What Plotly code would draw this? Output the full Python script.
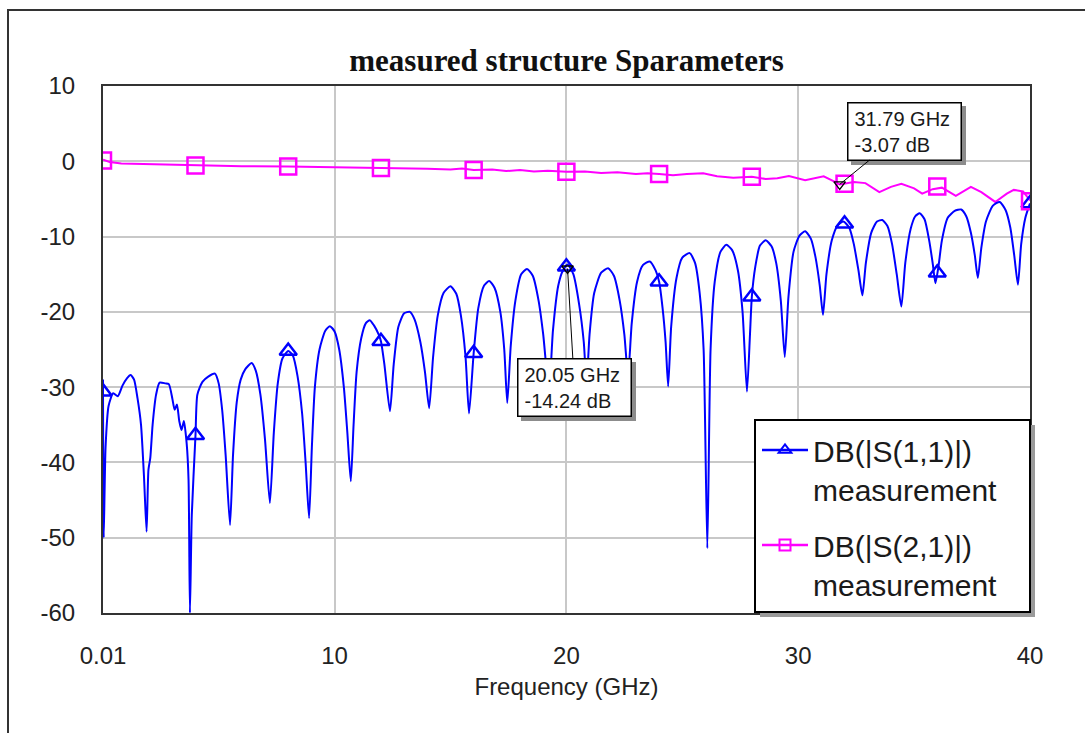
import plotly.graph_objects as go

# ---------------- data ----------------
s11_freq = [0.01, 0.04, 0.12, 0.25, 0.45, 0.65, 0.85, 1.05, 1.2, 1.35, 1.5, 1.65, 1.78, 1.89, 1.97,
            2.05, 2.15, 2.3, 2.45, 2.7, 2.85, 3.0, 3.1, 3.2, 3.3, 3.4, 3.5, 3.62, 3.7, 3.76, 3.84,
            4.0, 4.08, 4.3, 4.55, 4.84, 5.0, 5.15, 5.3, 5.49, 5.62, 5.78, 5.95, 6.15, 6.42, 6.6,
            6.8, 7.0, 7.21, 7.38, 7.55, 7.75, 8.0, 8.2, 8.4, 8.6, 8.75, 8.9, 9.02, 9.15, 9.35,
            9.6, 9.8, 10.0, 10.2, 10.4, 10.55, 10.7, 10.82, 10.95, 11.15, 11.35, 11.52, 11.7,
            11.9, 12.0, 12.15, 12.39, 12.55, 12.75, 13.0, 13.25, 13.45, 13.7, 13.9, 14.08, 14.25,
            14.45, 14.7, 15.0, 15.25, 15.45, 15.65, 15.8, 16.0, 16.2, 16.45, 16.67, 16.9, 17.15,
            17.32, 17.45, 17.6, 17.8, 18.05, 18.3, 18.55, 18.8, 19.0, 19.25, 19.42, 19.65, 19.85,
            20.05, 20.3, 20.55, 20.75, 20.87, 21.0, 21.2, 21.5, 21.8, 22.05, 22.3, 22.5, 22.66,
            22.82, 23.05, 23.3, 23.6, 23.85, 24.0, 24.15, 24.28, 24.39, 24.52, 24.75, 25.0, 25.32,
            25.55, 25.75, 25.92, 26.08, 26.22, 26.4, 26.65, 26.9, 27.15, 27.4, 27.6, 27.79, 27.92,
            28.0, 28.15, 28.35, 28.6, 28.85, 29.05, 29.25, 29.42, 29.58, 29.8, 30.05, 30.3, 30.55,
            30.75, 30.93, 31.07, 31.22, 31.45, 31.7, 31.95, 32.2, 32.4, 32.6, 32.77, 32.92, 33.15,
            33.4, 33.63, 33.85, 34.05, 34.25, 34.45, 34.62, 34.85, 35.05, 35.24, 35.45, 35.65,
            35.8, 35.92, 36.05, 36.2, 36.45, 36.75, 37.03, 37.25, 37.45, 37.62, 37.75, 37.9, 38.1,
            38.4, 38.69, 38.95, 39.15, 39.32, 39.48, 39.62, 39.8, 40.0]
s11_db = [-29.0, -50.0, -38.0, -32.5, -30.8, -31.2, -29.8, -28.8, -28.4, -29.0, -31.5, -35.0, -42.0,
          -49.2, -41.0, -39.4, -35.0, -31.0, -29.4, -29.5, -29.6, -31.5, -33.0, -32.3, -34.5,
          -35.7, -34.5, -37.5, -42.3, -60.0, -47.0, -36.4, -31.0, -29.3, -28.6, -28.2, -29.5,
          -33.0, -39.0, -48.3, -39.0, -32.0, -29.0, -27.6, -26.8, -27.8, -31.0, -37.0, -45.4,
          -36.0, -29.5, -26.2, -25.2, -25.8, -28.5, -33.5, -40.0, -47.4, -38.0, -30.0, -25.0,
          -22.5, -21.9, -22.6, -25.0, -30.0, -36.0, -42.5, -35.0, -28.0, -23.5, -21.5, -21.1,
          -21.8, -23.0, -23.9, -27.0, -33.2, -27.0, -22.0, -20.2, -20.0, -21.0, -24.0, -28.0,
          -32.8, -26.0, -20.5, -17.5, -16.6, -17.6, -20.5, -26.0, -33.5, -25.5, -19.5, -16.5,
          -15.9, -16.8, -20.0, -25.0, -32.1, -24.5, -18.5, -15.0, -14.3, -15.2, -18.5, -23.0,
          -30.5, -22.5, -16.5, -14.5, -13.7, -15.0, -19.0, -24.0, -29.5, -23.0, -17.5, -14.8,
          -14.2, -15.2, -18.5, -23.0, -28.5, -21.5, -16.0, -13.8, -13.3, -14.5, -16.0, -19.5,
          -24.0, -29.9, -22.0, -15.5, -12.8, -12.2, -13.5, -17.5, -25.0, -51.4, -25.0, -16.0,
          -12.0, -11.1, -11.8, -14.5, -20.0, -30.6, -23.0, -18.0, -14.0, -11.2, -10.5, -11.3,
          -13.5, -18.5, -26.0, -18.0, -12.0, -9.9, -9.3, -10.3, -12.8, -16.5, -20.4, -15.0,
          -10.5, -8.5, -8.0, -8.8, -11.0, -14.5, -17.8, -13.5, -9.5, -8.0, -7.8, -8.6, -11.0,
          -15.0, -19.3, -13.5, -9.0, -7.3, -6.9, -7.7, -10.5, -13.5, -16.2, -14.0, -10.5, -7.5,
          -6.6, -6.4, -7.3, -9.5, -12.5, -15.5, -11.5, -8.0, -5.9, -5.4, -6.5, -8.8, -12.5,
          -16.4, -11.0, -7.5, -5.6]

s21_freq = [0.01, 0.3, 0.8, 1.5, 2.5, 4, 6, 8, 10, 12, 13, 14, 15, 15.5, 16, 16.8, 17.4, 18, 18.6,
            19.2, 20, 20.8, 21.5, 22.2, 23, 23.5, 24, 24.6, 25.2, 25.9, 26.5, 27.2, 28, 28.6, 29.1,
            29.6, 30.3, 30.7, 31.1, 31.5, 31.79, 32.4, 32.9, 33.5, 34.0, 34.45, 35.0, 35.35, 35.8,
            36.2, 36.8, 37.45, 37.9, 38.5, 39.0, 39.3, 39.7, 40.0]
s21_db = [0.2, -0.1, -0.3, -0.35, -0.4, -0.55, -0.65, -0.7, -0.8, -0.9, -0.9, -1.0, -1.1, -0.95,
          -1.15, -1.1, -1.3, -1.15, -1.35, -1.25, -1.4, -1.35, -1.55, -1.45, -1.7, -1.6, -1.7,
          -1.85, -1.7, -1.6, -2.0, -2.2, -2.05, -2.35, -2.25, -1.95, -2.5, -2.25, -2.0, -2.6,
          -3.07, -2.75, -2.9, -4.1, -3.4, -3.0, -3.6, -4.3, -3.7, -3.5, -4.6, -3.4, -4.1, -5.4,
          -4.3, -3.8, -4.0, -5.2]

marker_freq = [0.01, 4, 8, 12, 16, 20, 24, 28, 32, 36, 40]
s11_marker_db = [-30.6, -36.4, -25.2, -23.9, -25.5, -14.0, -16.0, -18.0, -8.3, -14.8, -5.6]
s21_marker_db = [0.1, -0.55, -0.7, -0.9, -1.15, -1.4, -1.7, -2.05, -3.0, -3.35, -5.3]

readout_freq = [20.05, 31.79]
readout_db = [-14.24, -3.07]
readout_text = ["20.05 GHz<br>-14.24 dB", "31.79 GHz<br>-3.07 dB"]

x_tickvals = [0.01, 10, 20, 30, 40]
x_ticktext = ["0.01", "10", "20", "30", "40"]
y_tickvals = [10, 0, -10, -20, -30, -40, -50, -60]
y_ticktext = ["10", "0", "-10", "-20", "-30", "-40", "-50", "-60"]

s11_name = "DB(|S(1,1)|)<br>measurement"
s21_name = "DB(|S(2,1)|)<br>measurement"

# ---------------- styling ----------------
BLUE = "#0000ff"
MAG = "#ff00ff"
SANS = "Liberation Sans, Arial, sans-serif"
L, T, W, H = 103, 86, 927, 527  # plot area in pixels


def px(xp):
    return (xp - L) / W


def py(yp):
    return (T + H - yp) / H


fig = go.Figure()

fig.add_trace(go.Scatter(x=s21_freq, y=s21_db, mode="lines",
                         line=dict(color=MAG, width=2), showlegend=False, hoverinfo="skip"))
fig.add_trace(go.Scatter(x=s11_freq, y=s11_db, mode="lines",
                         line=dict(color=BLUE, width=2, shape="spline", smoothing=0.6),
                         showlegend=False, hoverinfo="skip"))
fig.add_trace(go.Scatter(x=marker_freq, y=s11_marker_db, mode="markers",
                         marker=dict(symbol="triangle-up-open", size=15, color=BLUE,
                                     line=dict(width=2.5, color=BLUE)),
                         showlegend=False, hoverinfo="skip"))
fig.add_trace(go.Scatter(x=marker_freq, y=s21_marker_db, mode="markers",
                         marker=dict(symbol="square-open", size=16, color=MAG,
                                     line=dict(width=2.5, color=MAG)),
                         showlegend=False, hoverinfo="skip"))
fig.add_trace(go.Scatter(x=readout_freq, y=readout_db, mode="markers",
                         marker=dict(symbol="triangle-down-open", size=10, color="#000",
                                     line=dict(width=1.3, color="#000")),
                         showlegend=False, hoverinfo="skip"))

# legend entries
fig.add_trace(go.Scatter(x=[None], y=[None], mode="lines+markers", name=s11_name,
                         legendgroup="a",
                         line=dict(color=BLUE, width=2.5),
                         marker=dict(symbol="triangle-up-open", size=11, color=BLUE,
                                     line=dict(width=2, color=BLUE))))
fig.add_trace(go.Scatter(x=[None], y=[None], mode="lines+markers", name=s21_name,
                         legendgroup="b",
                         line=dict(color=MAG, width=2.5),
                         marker=dict(symbol="square-open", size=11, color=MAG,
                                     line=dict(width=2, color=MAG))))

# readout boxes (shadow first, then box)
ann = []
offsets = [(7, 119), (65, -53)]
for f, d, t, (ax, ay) in zip(readout_freq, readout_db, readout_text, offsets):
    common = dict(x=f, y=d, xref="x", yref="y", showarrow=True, ax=ax, ay=ay,
                  arrowhead=0, arrowwidth=1, standoff=0, align="left",
                  width=100, height=44, borderpad=6, borderwidth=1.5)
    sh = dict(common)
    sh.update(text=" ", bgcolor="#8c8c8c", bordercolor="#8c8c8c",
              arrowcolor="rgba(0,0,0,0)", xshift=4, yshift=-4,
              font=dict(family=SANS, size=20))
    ann.append(sh)
    bx = dict(common)
    bx.update(text=t, bgcolor="white", bordercolor="#000", arrowcolor="#000",
              font=dict(family=SANS, size=20, color="#1a1a1a"))
    ann.append(bx)

shapes = [
    # outer frame
    dict(type="rect", xref="paper", yref="paper", x0=px(8), y0=py(800), x1=px(1200), y1=py(10),
         line=dict(color="#333", width=2), fillcolor="rgba(0,0,0,0)", layer="below"),
    # legend shadow
    dict(type="rect", xref="paper", yref="paper", x0=px(760), y0=py(617), x1=px(1035), y1=py(425),
         line=dict(width=0), fillcolor="#9a9a9a", layer="above"),
    # legend box
    dict(type="rect", xref="paper", yref="paper", x0=px(755), y0=py(612), x1=px(1030), y1=py(420),
         line=dict(color="#000", width=2), fillcolor="white", layer="above"),
]

axis_common = dict(showgrid=True, gridcolor="#c8c8c8", gridwidth=1.5, zeroline=False,
                   showline=True, mirror=True, linecolor="#333", linewidth=2, ticks="")
tick_font = dict(family=SANS, size=24, color="#222")

fig.update_layout(
    width=1085, height=733,
    margin=dict(l=L, r=1085 - L - W, t=T, b=733 - T - H),
    paper_bgcolor="white", plot_bgcolor="white",
    title=dict(text="<b>measured structure Sparameters</b>",
               font=dict(family="Liberation Serif, Times New Roman, serif", size=31, color="#111"),
               x=0.5, xref="paper", xanchor="center", y=1 - 60 / 733, yref="container",
               yanchor="middle"),
    xaxis=dict(range=[0.01, 40], tickvals=x_tickvals, ticktext=x_ticktext,
               tickfont=tick_font, ticklabelstandoff=20,
               title=dict(text="Frequency (GHz)", font=dict(family=SANS, size=24, color="#222"),
                          standoff=10),
               **axis_common),
    yaxis=dict(range=[-60, 10], tickvals=y_tickvals, ticktext=y_ticktext,
               tickfont=tick_font, ticklabelstandoff=21, **axis_common),
    legend=dict(x=px(757), y=py(424), xanchor="left", yanchor="top",
                bgcolor="rgba(0,0,0,0)", borderwidth=0,
                font=dict(family=SANS, size=30, color="#1a1a1a"),
                itemwidth=46, valign="top", traceorder="grouped", tracegroupgap=14),
    annotations=ann,
    shapes=shapes,
)

fig.write_html("out.html")
